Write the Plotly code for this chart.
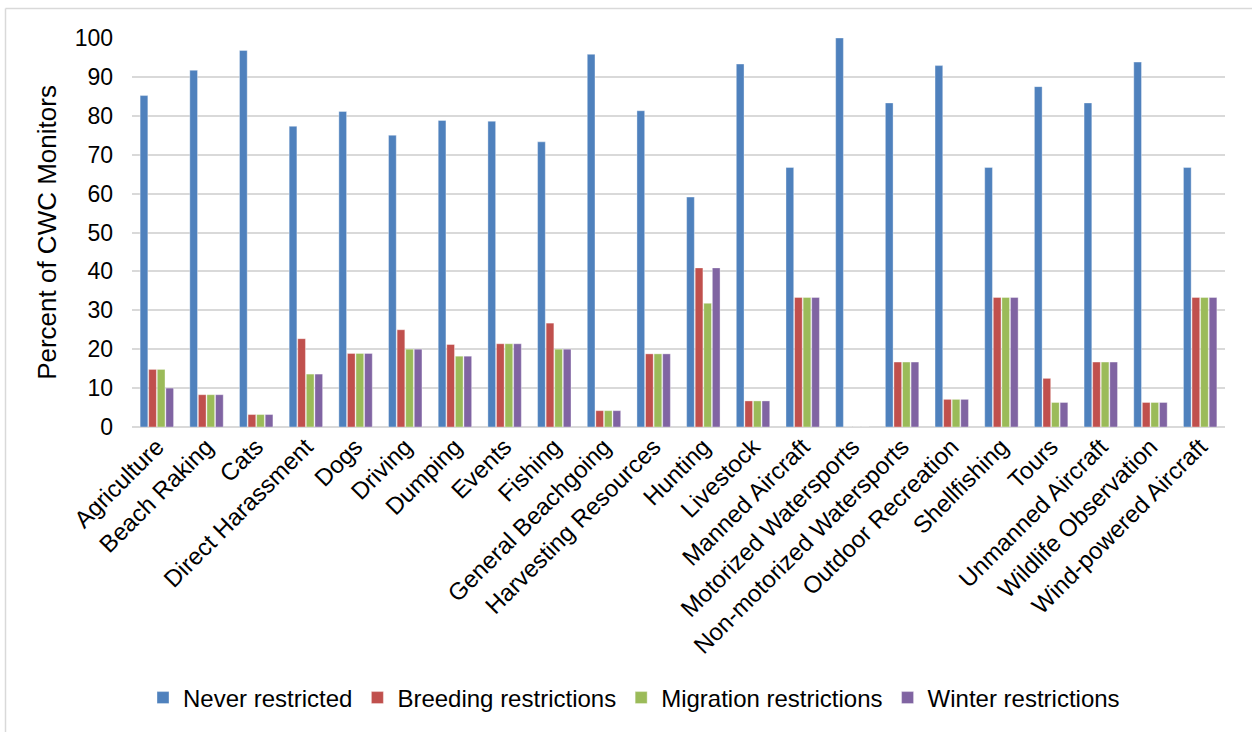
import plotly.graph_objects as go

# Activities surveyed
categories = [
    "Agriculture", "Beach Raking", "Cats", "Direct Harassment", "Dogs",
    "Driving", "Dumping", "Events", "Fishing", "General Beachgoing",
    "Harvesting Resources", "Hunting", "Livestock", "Manned Aircraft",
    "Motorized Watersports", "Non-motorized Watersports", "Outdoor Recreation",
    "Shellfishing", "Tours", "Unmanned Aircraft", "Wildlife Observation",
    "Wind-powered Aircraft",
]

# Percent of CWC monitors per restriction type
never_restricted = [85.2, 91.7, 96.8, 77.3, 81.1, 75.0, 78.8, 78.6, 73.3, 95.8,
                    81.3, 59.1, 93.3, 66.7, 100.0, 83.3, 92.9, 66.7, 87.5, 83.3,
                    93.8, 66.7]
breeding_restrictions = [14.8, 8.3, 3.2, 22.7, 18.9, 25.0, 21.2, 21.4, 26.7, 4.2,
                         18.8, 40.9, 6.7, 33.3, 0.0, 16.7, 7.1, 33.3, 12.5, 16.7,
                         6.3, 33.3]
migration_restrictions = [14.8, 8.3, 3.2, 13.6, 18.9, 20.0, 18.2, 21.4, 20.0, 4.2,
                          18.8, 31.8, 6.7, 33.3, 0.0, 16.7, 7.1, 33.3, 6.3, 16.7,
                          6.3, 33.3]
winter_restrictions = [10.0, 8.3, 3.2, 13.6, 18.9, 20.0, 18.2, 21.4, 20.0, 4.2,
                       18.8, 40.9, 6.7, 33.3, 0.0, 16.7, 7.1, 33.3, 6.3, 16.7,
                       6.3, 33.3]

series_names = ["Never restricted", "Breeding restrictions",
                "Migration restrictions", "Winter restrictions"]
series_values = [never_restricted, breeding_restrictions,
                 migration_restrictions, winter_restrictions]
series_colors = ["#4F81BD", "#C0504D", "#9BBB59", "#8064A2"]

y_ticks = [0, 10, 20, 30, 40, 50, 60, 70, 80, 90, 100]

FONT = "Liberation Sans, Arial, Helvetica, sans-serif"

fig = go.Figure()
for name, vals, color in zip(series_names, series_values, series_colors):
    fig.add_trace(go.Bar(
        name=name, x=categories, y=vals,
        marker=dict(color=color, line=dict(color="rgba(255,255,255,0.6)", width=0.6)),
    ))

W, H = 1252, 732
ml, mr, mt, mb = 132, 27, 38, 305
pw, ph = W - ml - mr, H - mt - mb


def px_x(px):
    return (px - ml) / pw


def px_y(py):
    return (H - mb - py) / ph


frame_col = "#d9d9d9"
shapes = [
    # outer chart frame (top and left edges)
    dict(type="line", xref="paper", yref="paper",
         x0=px_x(5.5), x1=px_x(W + 2), y0=px_y(8.5), y1=px_y(8.5),
         line=dict(color=frame_col, width=1.5)),
    dict(type="line", xref="paper", yref="paper",
         x0=px_x(5.5), x1=px_x(5.5), y0=px_y(8.5), y1=px_y(H + 2),
         line=dict(color=frame_col, width=1.5)),
]

fig.update_layout(
    width=W, height=H,
    margin=dict(l=ml, r=mr, t=mt, b=mb, pad=0),
    paper_bgcolor="white", plot_bgcolor="white",
    barmode="group", bargap=0.31, bargroupgap=0.1,
    font=dict(family=FONT, color="#000000", size=22),
    showlegend=True,
    legend=dict(orientation="h", x=px_x(634), xanchor="center",
                y=px_y(698), yanchor="middle",
                font=dict(size=24, family=FONT), itemwidth=30,
                traceorder="normal"),
    shapes=shapes,
)

fig.update_xaxes(
    tickangle=-45, tickfont=dict(size=24, family=FONT),
    showgrid=False, showline=False, ticks="",
)
fig.update_yaxes(
    range=[0, 100], tickvals=y_ticks, tickfont=dict(size=23, family=FONT),
    showgrid=True, gridcolor=frame_col, gridwidth=1.5,
    zeroline=True, zerolinecolor=frame_col, zerolinewidth=1.5,
    showline=False, ticks="", ticklabelstandoff=18,
    title=dict(text="Percent of CWC Monitors", font=dict(size=26, family=FONT),
               standoff=10),
)

fig.write_html("out.html")
